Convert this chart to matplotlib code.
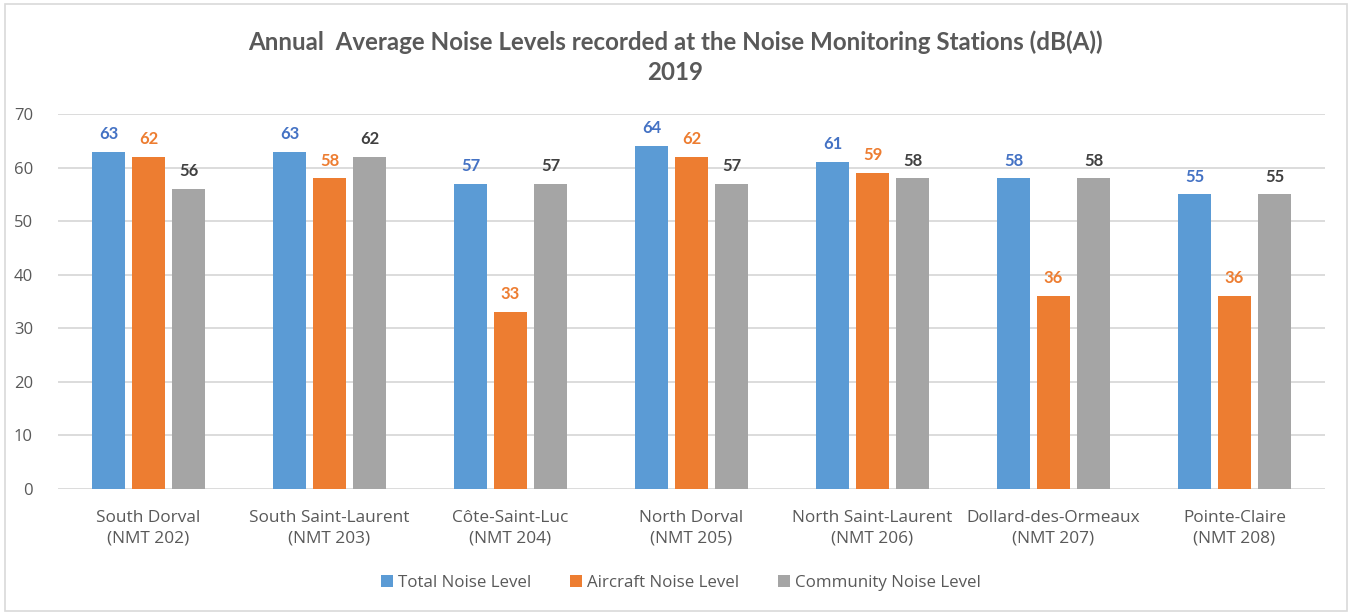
import matplotlib
matplotlib.use("Agg")
import matplotlib.pyplot as plt
import numpy as np
from matplotlib.patches import Rectangle

categories = ["South Dorval\n(NMT 202)", "South Saint-Laurent\n(NMT 203)", "Côte-Saint-Luc\n(NMT 204)",
              "North Dorval\n(NMT 205)", "North Saint-Laurent\n(NMT 206)", "Dollard-des-Ormeaux\n(NMT 207)",
              "Pointe-Claire\n(NMT 208)"]
total = [63, 63, 57, 64, 61, 58, 55]
aircraft = [62, 58, 33, 62, 59, 36, 36]
community = [56, 62, 57, 57, 58, 58, 55]
series_names = ["Total Noise Level", "Aircraft Noise Level", "Community Noise Level"]
yticks = [0, 10, 20, 30, 40, 50, 60, 70]

bar_colors = ["#5B9BD5", "#ED7D31", "#A5A5A5"]
label_colors = ["#4472C4", "#ED7D31", "#404040"]

plt.rcParams['font.family'] = ['Open Sans', 'DejaVu Sans']

fig = plt.figure(figsize=(13.51, 6.14), dpi=100)
fig.patches.append(Rectangle((5/1351, 3/614), 1342/1351, 607/614, transform=fig.transFigure,
                             fill=False, edgecolor="#D9D9D9", linewidth=1.2))
ax = fig.add_axes([58/1351, 1-489/614, (1325-58)/1351, (489-114)/614])

x = np.arange(len(categories))
width = 0.177
pitch = 0.221
for i, (vals, c, lc, name) in enumerate(zip([total, aircraft, community], bar_colors, label_colors, series_names)):
    pos = x + (i - 1) * pitch
    ax.bar(pos, vals, width=width, color=c, label=name, zorder=3)
    for p, v in zip(pos, vals):
        ax.annotate(str(v), (p, v), xytext=(0, 7), textcoords="offset points", ha="center", va="bottom",
                    fontsize=12, fontweight="bold", color=lc, family=['Lato', 'DejaVu Sans'])

ax.set_xlim(-0.5, len(categories) - 0.5)
ax.set_ylim(0, 70)
ax.set_yticks(yticks)
ax.grid(axis="y", color="#D9D9D9", linewidth=1.3, zorder=0)
ax.set_axisbelow(True)
for s in ax.spines.values():
    s.set_visible(False)
ax.tick_params(axis="both", length=0, labelsize=12, colors="#595959")
ax.tick_params(axis="y", pad=18)
ax.tick_params(axis="x", labelsize=12.4, pad=15)
ax.set_xticks(x)
ax.set_xticklabels(categories, linespacing=1.4)

fig.text(0.5, 1-42/614, "Annual  Average Noise Levels recorded at the Noise Monitoring Stations (dB(A))",
         ha="center", va="center", fontsize=17.4, fontweight="bold", color="#595959",
         family=['Lato', 'DejaVu Sans'])
fig.text(0.5, 1-72/614, "2019", ha="center", va="center", fontsize=17.4, fontweight="bold", color="#595959",
         family=['Lato', 'DejaVu Sans'])

leg = fig.legend(loc="center", bbox_to_anchor=(681/1351, 1-583/614), ncol=3, frameon=False,
                 fontsize=12.2, handlelength=0.7, handleheight=0.7, handletextpad=0.3, columnspacing=2.3)
for t in leg.get_texts():
    t.set_color("#595959")

fig.savefig("out.png", dpi=100)
